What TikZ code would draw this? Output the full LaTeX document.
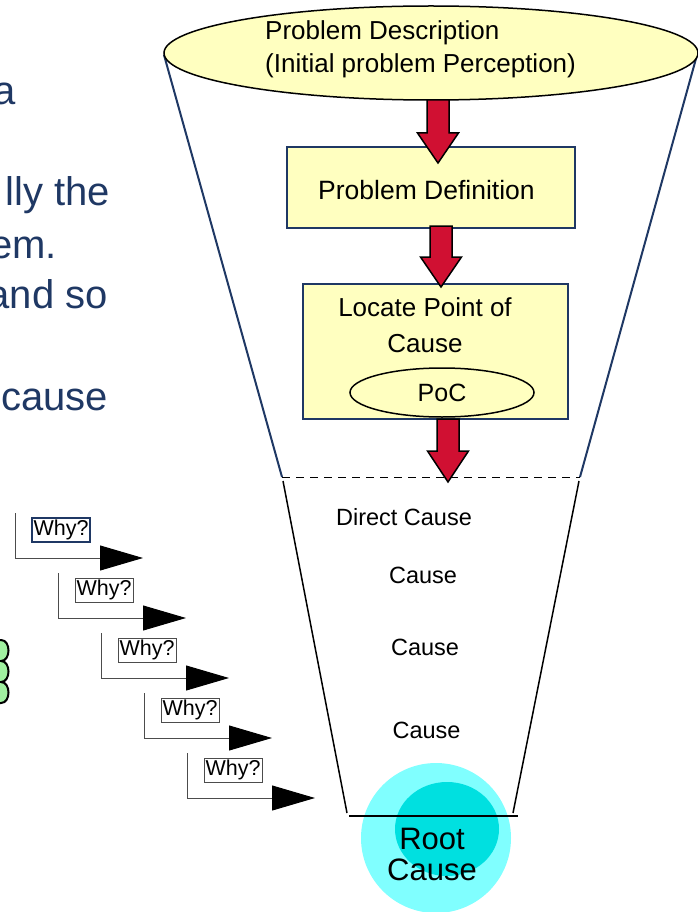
\documentclass[tikz,border=0pt]{standalone}
\usepackage{fontspec}
\setmainfont{Liberation Sans}
\usetikzlibrary{shapes.geometric,arrows.meta,calc}

\definecolor{navy}{RGB}{31,56,100}
\definecolor{paleyellow}{RGB}{255,255,192}
\definecolor{crimson}{RGB}{208,16,50}
\definecolor{lightcyan}{RGB}{128,255,255}
\definecolor{deepcyan}{RGB}{0,224,224}
\definecolor{palegreen}{RGB}{160,240,160}

% red block arrow pointing down: x, shaft top, head base, tip
\newcommand\blockarrow[4]{%
  \filldraw[redblock] (#1-11,#2) -- (#1+11,#2) -- (#1+11,#3) -- (#1+20.5,#3)
    -- (#1,#4) -- (#1-20.5,#3) -- (#1-11,#3) -- cycle;}

\tikzset{
  bodytext/.style={font=\fontsize{40}{51}\selectfont, text=navy, inner sep=0, anchor=base east},
  yellowbox/.style={rectangle, draw=navy, line width=1.5pt, fill=paleyellow, inner sep=0},
  yellowoval/.style={ellipse, draw=black, line width=1.5pt, fill=paleyellow, inner sep=0},
  redblock/.style={fill=crimson, draw=black, line width=1.5pt, line join=miter},
  funnelup/.style={draw=navy, line width=2pt},
  funneldown/.style={draw=black, line width=1.5pt},
  whybox/.style={rectangle, draw=black!70, fill=white, line width=1pt, inner sep=1.5pt,
    minimum width=58pt, minimum height=24pt, font=\fontsize{21.5}{24}\selectfont},
  stair/.style={draw=black!70, line width=1pt, -{Triangle[length=43pt,width=25pt,black]}},
  causetext/.style={font=\fontsize{23.5}{28}\selectfont, inner sep=0, anchor=base},
}

\begin{document}
\begin{tikzpicture}[x=1pt,y=-1pt]
\useasboundingbox (0,0) rectangle (698,912);

% body text running in from the left edge
\node[bodytext] (t1) at (16,105) {a};
\node[bodytext] (t2) at (110,205) {lly the};
\node[bodytext] (t3) at (57,258) {em.};
\node[bodytext] (t4) at (108,308) {and so};
\node[bodytext] (t5) at (108,410) {cause};

% green cloud at the left edge
\filldraw[fill=palegreen, draw=black, line width=2pt]
  (-10,640) -- (1,640) .. controls (11,640) and (11,661) .. (1,661)
  .. controls (11,661) and (11,682) .. (1,682)
  .. controls (11,682) and (11,703) .. (1,703) -- (-10,703) -- cycle;

% funnel outline
\coordinate (ftl) at (164,55);
\coordinate (ftr) at (697,55);
\coordinate (fml) at (282,477);
\coordinate (fmr) at (580,477);
\coordinate (fnl) at (283,481);
\coordinate (fnr) at (579,481);
\coordinate (fbl) at (347,813);
\coordinate (fbr) at (513,813);
\draw[funnelup] (ftl) -- (fml);
\draw[funnelup] (ftr) -- (fmr);
\draw[black, line width=1pt, dash pattern=on 8pt off 6pt] (fml) -- (fmr);
\draw[funneldown] (fnl) -- (fbl);
\draw[funneldown] (fnr) -- (fbr);

% root cause discs
\node[circle, fill=lightcyan, minimum size=150pt, inner sep=0] (rootout) at (436,838) {};
\node[ellipse, fill=deepcyan, minimum width=104pt, minimum height=94pt, inner sep=0] (rootin) at (447,829) {};
\coordinate (bl) at (349,816);
\coordinate (br) at (518,816);
\draw[black, line width=2pt] (bl) -- (br);
\node[font=\fontsize{31}{31}\selectfont, align=center, inner sep=0, anchor=north] (roottext)
  at (432,827.5) {Root\\Cause};

% top of the funnel
\node[yellowoval, minimum width=534pt, minimum height=94pt] (desc) at (431,53) {};
\node[font=\fontsize{26}{33}\selectfont, align=left, inner sep=0, anchor=north west] (desctext)
  at (265,20) {Problem Description\\(Initial problem Perception)};

% steps inside the funnel
\node[yellowbox, minimum width=288pt, minimum height=81pt] (def) at (431,187.5) {};
\node[font=\fontsize{26.5}{30}\selectfont, inner sep=0, anchor=base] (deftext)
  at (426.5,199) {Problem Definition};
\node[yellowbox, minimum width=265pt, minimum height=135pt] (loc) at (435.5,351.5) {};
\node[font=\fontsize{26}{36}\selectfont, align=center, inner sep=0, anchor=north] (loctext)
  at (425,297) {Locate Point of\\Cause};
\node[yellowoval, minimum width=184pt, minimum height=49pt,
  font=\fontsize{25}{30}\selectfont] (poc) at (442,392.5) {PoC};

\blockarrow{438}{100}{133}{163}
\blockarrow{441}{226}{257}{287}
\blockarrow{448}{419}{451}{482}

% causes down the funnel
\node[causetext] (direct) at (404,525) {Direct Cause};
\node[causetext] (c1) at (423,583) {Cause};
\node[causetext] (c2) at (425,655) {Cause};
\node[causetext] (c3) at (426.5,738) {Cause};

% the why staircase
\foreach \i in {0,...,4} {
  \coordinate (wtop\i) at (15+43*\i, 513+60*\i);
  \coordinate (wtip\i) at (143+43*\i, 558+60*\i);
  \draw[stair] (wtop\i) |- (wtip\i);
}
\node[whybox, draw=navy, line width=1.5pt] (why0) at (61,530) {Why?};
\foreach \i in {1,...,4} {
  \node[whybox] (why\i) at (61+43*\i, 530+60*\i) {Why?};
}
\end{tikzpicture}
\end{document}
